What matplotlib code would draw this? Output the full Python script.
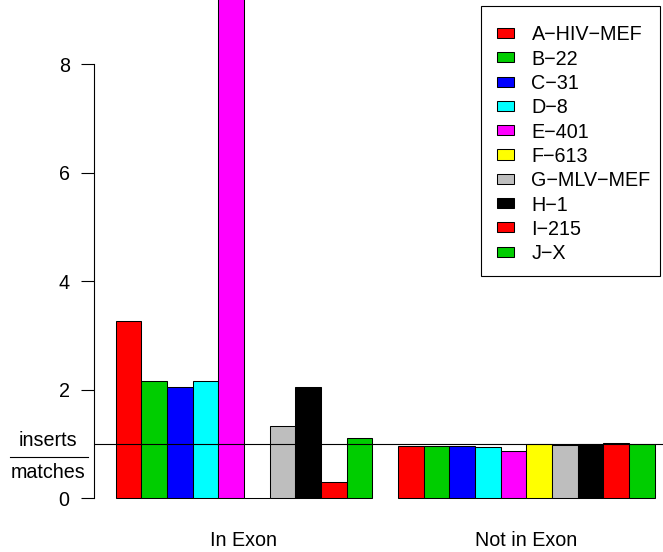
import matplotlib
matplotlib.use("Agg")
import matplotlib.pyplot as plt
from matplotlib.patches import Rectangle
from matplotlib.lines import Line2D

plt.rcParams['font.family'] = ['Liberation Sans', 'DejaVu Sans']

# data
samples = ["A\u2212HIV\u2212MEF", "B\u221222", "C\u221231", "D\u22128", "E\u2212401",
           "F\u2212613", "G\u2212MLV\u2212MEF", "H\u22121", "I\u2212215", "J\u2212X"]
colors = ["#FF0000", "#00CD00", "#0000FF", "#00FFFF", "#FF00FF",
          "#FFFF00", "#BEBEBE", "#000000", "#FF0000", "#00CD00"]
groups = ["In Exon", "Not in Exon"]
in_exon = [3.27, 2.15, 2.05, 2.16, 10.4, 0.0, 1.33, 2.05, 0.29, 1.10]
not_in_exon = [0.96, 0.96, 0.96, 0.95, 0.87, 1.00, 0.98, 0.99, 1.01, 0.99]
yticks = [0, 2, 4, 6, 8]

W, H = 663, 552
FS = 14.2
fig = plt.figure(figsize=(W / 100, H / 100), dpi=100)


def fx(px):
    return px / W


def fy(py):
    return 1 - py / H


# plot region in pixels (R style barplot, one bar gap before each group)
px_left = 94
unit = 25.67            # px per bar
y0_px, ypx = 498, 54.2  # pixel of y=0, px per unit
x_lo = 0.16
x_hi = x_lo + (W - px_left) / unit
y_lo = -(H - y0_px) / ypx
y_hi = y0_px / ypx

ax = fig.add_axes([fx(px_left), 0, 1 - fx(px_left), 1])
ax.set_xlim(x_lo, x_hi)
ax.set_ylim(y_lo, y_hi)

n = len(samples)
for g, vals in enumerate([in_exon, not_in_exon]):
    start = 1 + g * (n + 1)
    xs = [start + k + 0.5 for k in range(n)]
    ax.bar(xs, vals, width=1.0, color=colors, edgecolor="black",
           linewidth=0.75, zorder=2)
    ax.text(start + n / 2, y_lo + (H - 540) / ypx, groups[g], ha="center",
            va="center", fontsize=FS)

ax.axhline(1, color="black", linewidth=0.8, zorder=3)

for s in ["top", "right", "bottom"]:
    ax.spines[s].set_visible(False)
ax.spines["left"].set_bounds(0, 8)
ax.spines["left"].set_linewidth(0.8)
ax.set_xticks([])
ax.set_yticks(yticks)
ax.set_yticklabels([str(t) for t in yticks])
ax.tick_params(axis="y", length=9.5, width=0.8, pad=8, labelsize=FS)

# fraction style y label
fig.text(fx(48), fy(440), "inserts", ha="center", va="center", fontsize=FS)
fig.text(fx(48), fy(472), "matches", ha="center", va="center", fontsize=FS)
fig.add_artist(Line2D([fx(10), fx(88)], [fy(457), fy(457)],
                      color="black", linewidth=0.8, transform=fig.transFigure))

# legend box drawn like R's legend()
fig.add_artist(Rectangle((fx(481), fy(276)), fx(660) - fx(481), fy(6) - fy(276),
                         facecolor="white", edgecolor="black", linewidth=0.8,
                         transform=fig.transFigure, zorder=5))
for i, (lab, c) in enumerate(zip(samples, colors)):
    yc = 33 + 24.3 * i
    fig.add_artist(Rectangle((fx(497), fy(yc + 5)), fx(513.5) - fx(497),
                             fy(yc - 5) - fy(yc + 5), facecolor=c,
                             edgecolor="black", linewidth=0.75,
                             transform=fig.transFigure, zorder=6))
    fig.text(fx(531.5), fy(yc), lab, ha="left", va="center_baseline",
             fontsize=FS, zorder=6)

fig.savefig("out.png", dpi=100)
